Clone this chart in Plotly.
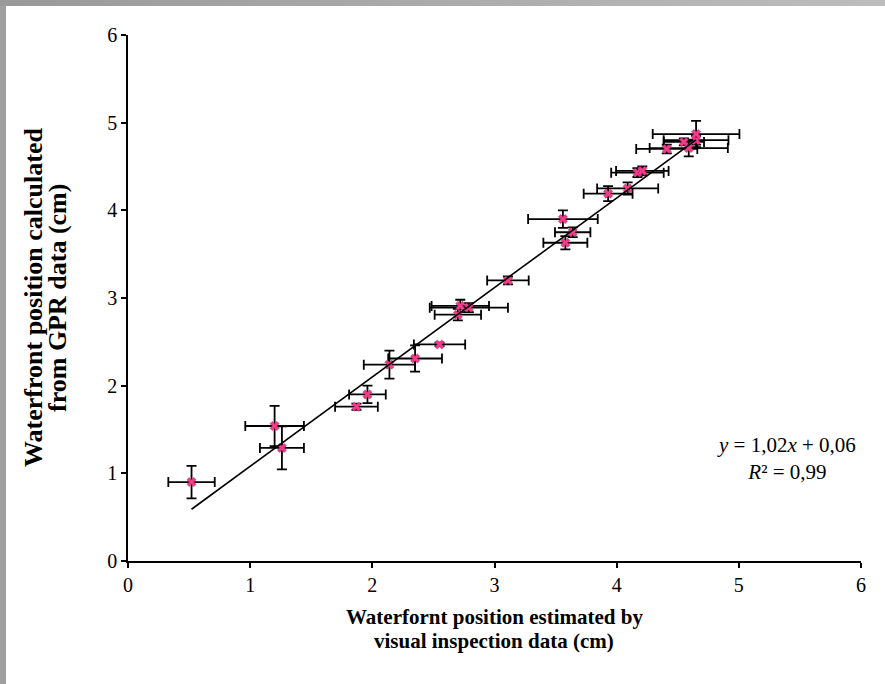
import plotly.graph_objects as go

# ---- data ----
x_visual = [0.52, 1.20, 1.26, 1.87, 1.96, 2.14, 2.35, 2.55, 2.70, 2.72, 2.79, 3.11,
            3.56, 3.58, 3.64, 3.93, 4.09, 4.17, 4.21, 4.41, 4.55, 4.59, 4.65, 4.65]
y_gpr = [0.90, 1.54, 1.29, 1.76, 1.90, 2.24, 2.31, 2.47, 2.81, 2.91, 2.89, 3.20,
         3.90, 3.63, 3.75, 4.19, 4.25, 4.43, 4.45, 4.70, 4.78, 4.71, 4.80, 4.87]
x_err = [0.19, 0.24, 0.18, 0.175, 0.15, 0.21, 0.22, 0.21, 0.19, 0.235, 0.32, 0.17,
         0.285, 0.18, 0.145, 0.20, 0.25, 0.215, 0.215, 0.25, 0.165, 0.32, 0.265, 0.355]
y_err = [0.185, 0.23, 0.245, 0.035, 0.10, 0.16, 0.15, 0.02, 0.065, 0.07, 0.05, 0.045,
         0.10, 0.075, 0.055, 0.085, 0.07, 0.05, 0.05, 0.05, 0.04, 0.095, 0.05, 0.15]
slope = 1.02
intercept = 0.06
axis_ticks = [0, 1, 2, 3, 4, 5, 6]
x_title_lines = ["Waterfornt position estimated by", "visual inspection data (cm)"]
y_title_lines = ["Waterfront position calculated", "from GPR data (cm)"]

FONT = "Liberation Serif"

fit_x = [min(x_visual), max(x_visual)]
fit_y = [slope * v + intercept for v in fit_x]

fig = go.Figure()
fig.add_trace(go.Scatter(
    x=x_visual, y=y_gpr, mode="markers",
    marker=dict(symbol="x", size=8, color="#F23C8A",
                line=dict(color="#A8195A", width=0.5)),
    error_x=dict(type="data", array=x_err, color="black", thickness=1.8, width=5),
    error_y=dict(type="data", array=y_err, color="black", thickness=1.8, width=5),
    showlegend=False,
))
fig.add_trace(go.Scatter(
    x=fit_x, y=fit_y, mode="lines",
    line=dict(color="black", width=1.6), showlegend=False,
))

# figure sits at an 8px page offset (body margin); keep the page within the window
W, H = 869, 668
L, R, T, B = 120, 16, 27, 115
OFF = 8
PL, PB = OFF + L, OFF + H - B
PW, PH = W - L - R, H - T - B


def paper_x(px):
    return (px - PL) / PW


def paper_y(py):
    return (PB - py) / PH


annotations = [dict(
    x=5.39, y=1.17, xref="x", yref="y",
    text="<i>y</i> = 1,02<i>x</i> + 0,06<br><i>R</i>² = 0,99",
    showarrow=False, align="center", xanchor="center", yanchor="middle",
    font=dict(family=FONT, size=21),
)]
for txt, py in zip(x_title_lines, [617, 641]):
    annotations.append(dict(
        xref="paper", yref="paper", x=paper_x(494), y=paper_y(py),
        text=f"<b>{txt}</b>", showarrow=False, xanchor="center", yanchor="middle",
        font=dict(family=FONT, size=21),
    ))
for txt, px in zip(y_title_lines, [33, 57]):
    annotations.append(dict(
        xref="paper", yref="paper", x=paper_x(px), y=paper_y(298),
        text=f"<b>{txt}</b>", showarrow=False, xanchor="center", yanchor="middle",
        textangle=-90, font=dict(family=FONT, size=26),
    ))

fig.update_layout(
    width=W, height=H,
    margin=dict(l=L, r=R, t=T, b=B),
    paper_bgcolor="white", plot_bgcolor="white",
    font=dict(family=FONT, size=20, color="black"),
    xaxis=dict(
        range=[0, 6], tickvals=axis_ticks, ticktext=[str(v) for v in axis_ticks],
        showgrid=False, zeroline=False, showline=True, linecolor="black", linewidth=1.6,
        ticks="outside", ticklen=5, tickwidth=1.6, tickcolor="black",
        tickfont=dict(family=FONT, size=20),
    ),
    yaxis=dict(
        range=[0, 6], tickvals=axis_ticks, ticktext=[str(v) for v in axis_ticks],
        showgrid=False, zeroline=False, showline=True, linecolor="black", linewidth=1.6,
        ticks="outside", ticklen=5, tickwidth=1.6, tickcolor="black",
        tickfont=dict(family=FONT, size=20),
    ),
    annotations=annotations,
)

frame_css = ("linear-gradient(to right, #999999, #bdbdbd) left top / 100% 6px no-repeat, "
             "linear-gradient(#a0a0a0, #a0a0a0) left top / 6px 100% no-repeat, white")
fig.write_html(
    "out.html",
    post_script=f"document.body.style.background='{frame_css}';",
)
